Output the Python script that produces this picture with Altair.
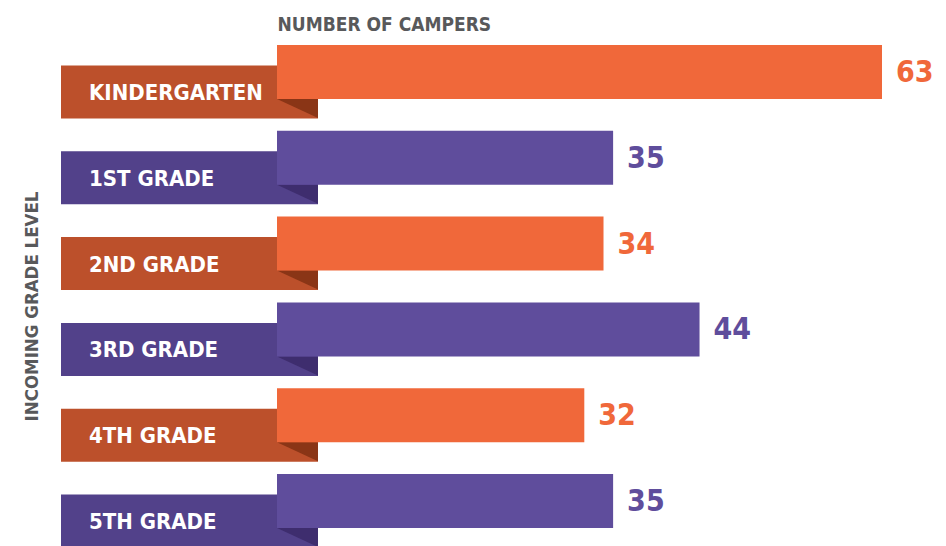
import altair as alt
import pandas as pd

grades = ["KINDERGARTEN", "1ST GRADE", "2ND GRADE", "3RD GRADE", "4TH GRADE", "5TH GRADE"]
campers = [63, 35, 34, 44, 32, 35]

df = pd.DataFrame({
    "grade": grades,
    "campers": campers,
    "group": ["A" if i % 2 == 0 else "B" for i in range(len(grades))],
})

FONT = "DejaVu Sans Condensed, Noto Sans"
BAR = ["#F0683A", "#5F4D9C"]
RIB = ["#BC502B", "#52418A"]
TRI = ["#8A3516", "#3E2D6E"]

y_enc = alt.Y("grade:N", sort=grades,
              scale=alt.Scale(type="point", range=[64, 493], padding=0),
              axis=alt.Axis(title="INCOMING GRADE LEVEL", labels=False, ticks=False,
                            domain=False, grid=False, titleFont=FONT, titleFontSize=18.5,
                            titleFontWeight="bold", titleColor="#58595B",
                            titleX=29, titleY=298, titleAngle=270, titleAlign="center",
                            titleBaseline="alphabetic"))
x_scale = alt.Scale(domain=[0, max(campers)], range=[269, 874], nice=False, zero=True)
x_axis = alt.Axis(orient="top", title="NUMBER OF CAMPERS", labels=False, ticks=False,
                  domain=False, grid=False, titleFont=FONT, titleFontSize=19,
                  titleFontWeight="bold", titleColor="#58595B", titleX=269, titleY=22,
                  titleAlign="left", titleAnchor="start", titleBaseline="alphabetic")

base = alt.Chart(df)

ribbon = base.mark_bar(size=53, yOffset=20).encode(
    y=y_enc,
    x=alt.value(53), x2=alt.value(310),
    color=alt.Color("group:N", scale=alt.Scale(domain=["A", "B"], range=RIB), legend=None),
)

tri = base.mark_point(
    shape="M0,1.317L2,1.317L2,2.244Z", size=1681, filled=True, opacity=1, strokeWidth=0
).encode(
    y=alt.Y("grade:N", sort=grades),
    x=alt.datum(0),
    color=alt.Color("group:N", scale=alt.Scale(domain=["A", "B"], range=TRI), legend=None),
)

bars = base.mark_bar(size=54).encode(
    y=alt.Y("grade:N", sort=grades),
    x=alt.X("campers:Q", scale=x_scale, axis=x_axis),
    color=alt.Color("group:N", scale=alt.Scale(domain=["A", "B"], range=BAR), legend=None),
)

vals = base.mark_text(align="left", baseline="middle", dx=14, dy=1, font=FONT,
                      fontSize=30, fontWeight="bold").encode(
    y=alt.Y("grade:N", sort=grades),
    x=alt.X("campers:Q"),
    text="campers:Q",
    color=alt.Color("group:N", scale=alt.Scale(domain=["A", "B"], range=BAR), legend=None),
)

labels = base.mark_text(align="left", baseline="middle", dy=21, font=FONT,
                        fontSize=22, fontWeight="bold", color="white").encode(
    y=alt.Y("grade:N", sort=grades),
    x=alt.value(81),
    text="grade:N",
)

chart = alt.layer(ribbon, tri, bars, vals, labels).resolve_scale(color="independent").properties(
    width=930, height=538, autosize=alt.AutoSizeParams(type="none"), padding=0
).configure_view(stroke=None)

chart.save("out.html", embed_options={"renderer": "svg", "actions": False})
